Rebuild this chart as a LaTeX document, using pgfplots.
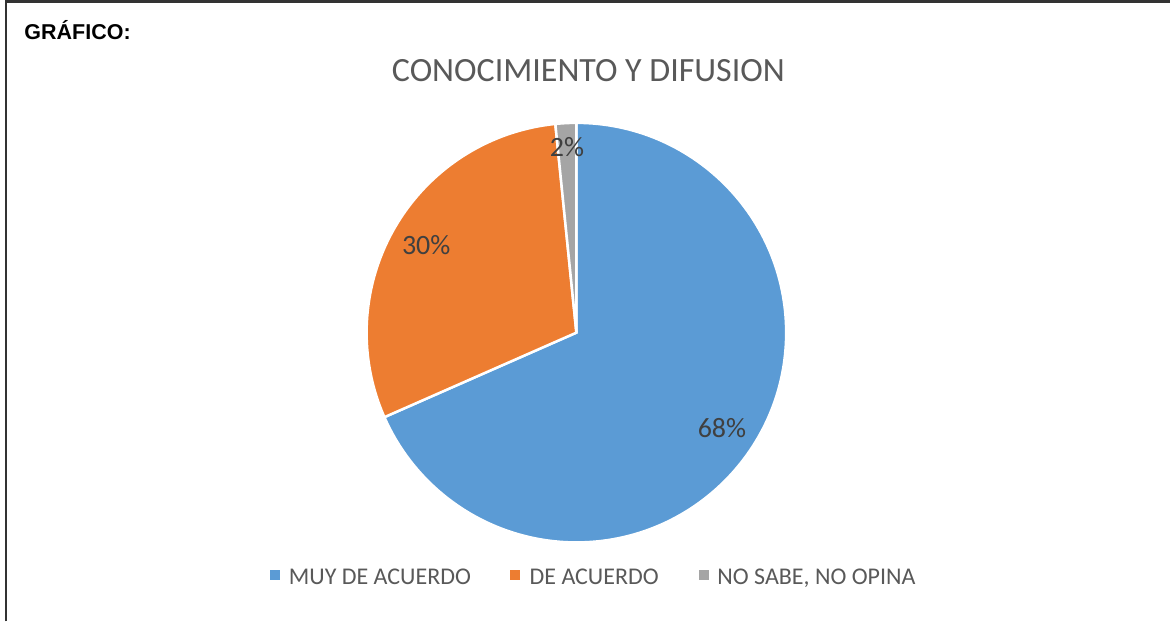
\documentclass[border=0pt]{standalone}
\usepackage{pgfplots}
\pgfplotsset{compat=1.18}
\usepackage{pgfplotstable}
\usepackage{fontspec}
\setmainfont{Carlito}
\newfontfamily\arialfont{Liberation Sans}
\definecolor{pieblue}{HTML}{5B9BD5}
\definecolor{pieorange}{HTML}{ED7D31}
\definecolor{piegray}{HTML}{A5A5A5}
\definecolor{txtgray}{HTML}{595959}
\definecolor{lblgray}{HTML}{404040}

% share of each answer (%)
\pgfplotstableread{
value name
68.4 {MUY DE ACUERDO}
30.0 {DE ACUERDO}
1.6 {NO SABE, NO OPINA}
}\piedata

\begin{document}
\begin{tikzpicture}
% values and names
\pgfplotstablegetelem{0}{value}\of\piedata \pgfmathsetmacro\vA{\pgfplotsretval}
\pgfplotstablegetelem{1}{value}\of\piedata \pgfmathsetmacro\vB{\pgfplotsretval}
\pgfplotstablegetelem{2}{value}\of\piedata \pgfmathsetmacro\vC{\pgfplotsretval}
\pgfplotstablegetelem{0}{name}\of\piedata \let\nA\pgfplotsretval
\pgfplotstablegetelem{1}{name}\of\piedata \let\nB\pgfplotsretval
\pgfplotstablegetelem{2}{name}\of\piedata \let\nC\pgfplotsretval
% start at 12 o'clock, go clockwise
\pgfmathsetmacro\aA{90}
\pgfmathsetmacro\aB{\aA-3.6*\vA}
\pgfmathsetmacro\aC{\aB-3.6*\vB}
\pgfmathsetmacro\aD{\aC-3.6*\vC}
\pgfmathsetmacro\mA{(\aA+\aB)/2}
\pgfmathsetmacro\mB{(\aB+\aC)/2}
\pgfmathsetmacro\mC{(\aC+\aD)/2}
\pgfkeys{/pgf/number format/.cd, fixed, precision=0, assume math mode=true}
\begin{axis}[
    width=1171bp, height=622bp, scale only axis,
    xmin=0, xmax=1171, ymin=0, ymax=622,
    hide axis, clip=false,
]
\fill[white] (axis cs:0,0) rectangle (axis cs:1171,622);
\draw[black!80, line width=2.5bp] (axis cs:6,0) -- (axis cs:6,620.5) -- (axis cs:1171,620.5);

\node[anchor=base west, font=\arialfont\bfseries\fontsize{21.5bp}{24bp}\selectfont]
    at (axis cs:21,582) {GRÁFICO:};
\node[anchor=base, text=txtgray, font=\fontsize{34bp}{40bp}\selectfont]
    at (axis cs:589,540) {CONOCIMIENTO Y DIFUSION};

% wedges
\fill[pieblue, draw=white, line width=2.5bp] (axis cs:577,289) -- ++(\aA:210bp)
    arc[start angle=\aA, end angle=\aB, radius=210bp] -- cycle;
\fill[pieorange, draw=white, line width=2.5bp] (axis cs:577,289) -- ++(\aB:210bp)
    arc[start angle=\aB, end angle=\aC, radius=210bp] -- cycle;
\fill[piegray, draw=white, line width=2.5bp] (axis cs:577,289) -- ++(\aC:210bp)
    arc[start angle=\aC, end angle=\aD, radius=210bp] -- cycle;

% data labels
\path (axis cs:577,289) ++(\mA:174bp) node[text=lblgray, font=\fontsize{28bp}{32bp}\selectfont]
    {\pgfmathprintnumber{\vA}\%};
\path (axis cs:577,289) ++(\mB:174bp) node[text=lblgray, font=\fontsize{28bp}{32bp}\selectfont]
    {\pgfmathprintnumber{\vB}\%};
\path (axis cs:577,289) ++(\mC:186bp) node[text=lblgray, font=\fontsize{28bp}{32bp}\selectfont]
    {\pgfmathprintnumber{\vC}\%};

% legend
\fill[pieblue] (axis cs:270,41) rectangle (axis cs:280,51);
\node[anchor=base west, inner sep=0pt, text=txtgray, font=\fontsize{24bp}{28bp}\selectfont]
    at (axis cs:289,37) {\nA};
\fill[pieorange] (axis cs:511,41) rectangle (axis cs:521,51);
\node[anchor=base west, inner sep=0pt, text=txtgray, font=\fontsize{24bp}{28bp}\selectfont]
    at (axis cs:530,37) {\nB};
\fill[piegray] (axis cs:700,41) rectangle (axis cs:710,51);
\node[anchor=base west, inner sep=0pt, text=txtgray, font=\fontsize{24bp}{28bp}\selectfont]
    at (axis cs:718,37) {\nC};
\end{axis}
\end{tikzpicture}
\end{document}
